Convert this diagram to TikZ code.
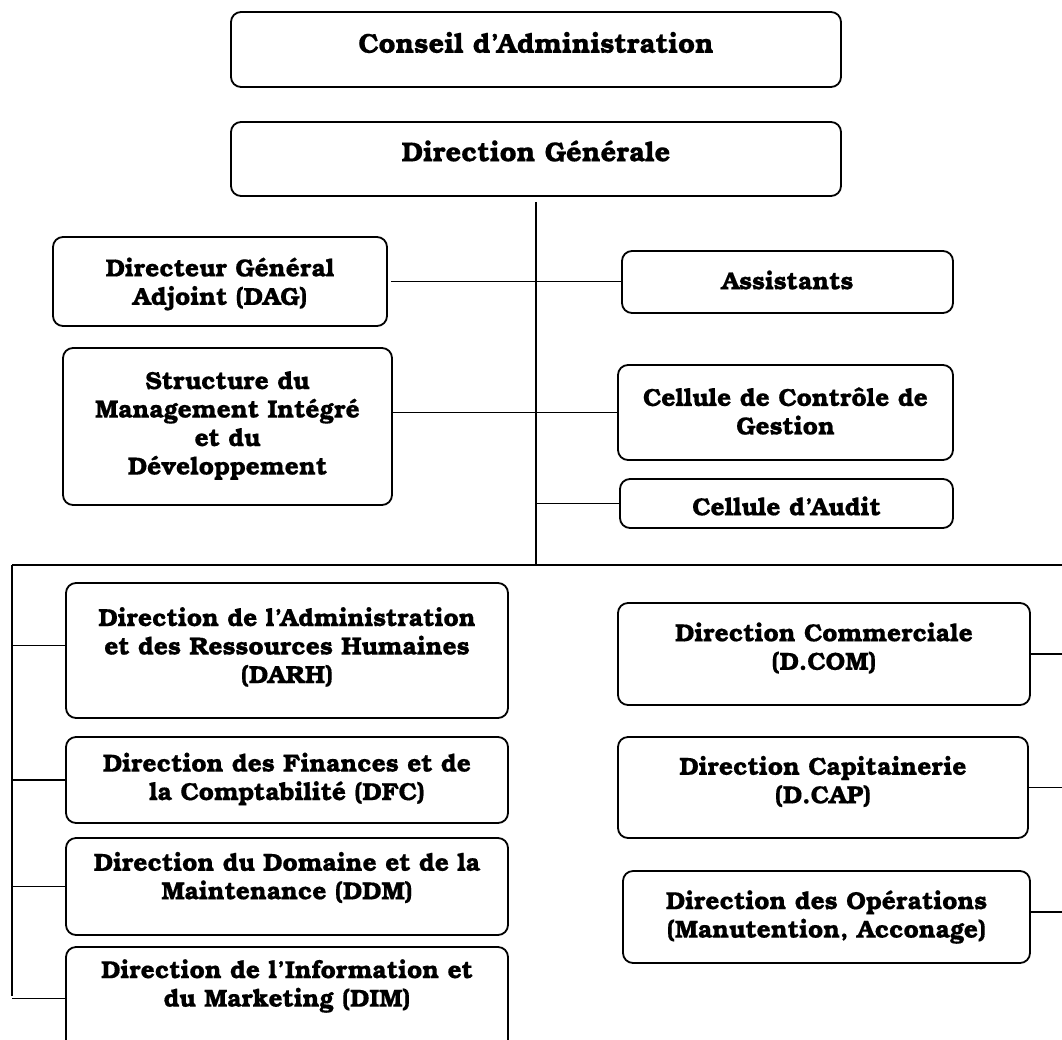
\documentclass[tikz,border=0pt]{standalone}
\usepackage{fontspec}
\setmainfont{texgyrebonum}[Extension=.otf, UprightFont=*-regular, BoldFont=*-bold, BoldFeatures={FakeBold=0.4}]
\begin{document}
\begin{tikzpicture}[x=1pt,y=-1pt,
  box/.style={draw, line width=1.8pt, rounded corners=10pt, inner sep=0pt},
  txt/.style={align=center, inner sep=0pt, font=\fontsize{24.7}{28.5}\selectfont\bfseries},
  bigtxt/.style={align=center, inner sep=0pt, font=\fontsize{27.4}{32}\selectfont\bfseries},
  conn/.style={line width=1.8pt}]
\clip (0,0) rectangle (1062,1039);
\useasboundingbox (0,0) rectangle (1062,1039);
% boxes
\node[box, minimum width=610, minimum height=75] (ca) at (536,49.5) {};
\node[box, minimum width=610, minimum height=74] (dg) at (536,159) {};
\node[box, minimum width=334, minimum height=89] (dag) at (220,281.5) {};
\node[box, minimum width=331, minimum height=62] (ass) at (787.5,282) {};
\node[box, minimum width=329, minimum height=157] (smi) at (227.5,426.5) {};
\node[box, minimum width=335, minimum height=95] (ccg) at (785.5,412.5) {};
\node[box, minimum width=333, minimum height=49] (aud) at (786.5,503.5) {};
\node[box, minimum width=442, minimum height=135] (darh) at (287,650.5) {};
\node[box, minimum width=442, minimum height=86] (dfc) at (287,780) {};
\node[box, minimum width=442, minimum height=97] (ddm) at (287,886.5) {};
\node[box, minimum width=442, minimum height=103] (dim) at (287,998.5) {};
\node[box, minimum width=412, minimum height=102] (dcom) at (824,654) {};
\node[box, minimum width=410, minimum height=101] (dcap) at (823,787.5) {};
\node[box, minimum width=407, minimum height=92] (dops) at (826.5,917) {};
% texts
\node[bigtxt] (ca-t) at ([yshift=7pt]ca.center) {Conseil d’Administration};
\node[bigtxt] (dg-t) at ([yshift=8pt]dg.center) {Direction Générale};
\node[txt] (dag-t) at ([yshift=-2.5pt]dag.center) {Directeur Général\\Adjoint (DAG)};
\node[txt] (ass-t) at ([yshift=2pt]ass.center) {Assistants};
\node[txt] (smi-t) at ([yshift=1pt]smi.center) {Structure du\\Management Intégré\\et du\\Développement};
\node[txt] (ccg-t) at ([yshift=1.5pt]ccg.center) {Cellule de Contrôle de\\Gestion};
\node[txt] (aud-t) at ([yshift=-2.5pt]aud.center) {Cellule d’Audit};
\node[txt] (darh-t) at ([yshift=3.5pt]darh.center) {Direction de l’Administration\\et des Ressources Humaines\\(DARH)};
\node[txt] (dfc-t) at ([yshift=1pt]dfc.center) {Direction des Finances et de\\la Comptabilité (DFC)};
\node[txt] (ddm-t) at ([yshift=9pt]ddm.center) {Direction du Domaine et de la\\Maintenance (DDM)};
\node[txt] (dim-t) at ([yshift=12.5pt]dim.center) {Direction de l’Information et\\du Marketing (DIM)};
\node[txt] (dcom-t) at ([yshift=6pt]dcom.center) {Direction Commerciale\\(D.COM)};
\node[txt] (dcap-t) at ([yshift=6pt]dcap.center) {Direction Capitainerie\\(D.CAP)};
\node[txt] (dops-t) at (dops.center) {Direction des Opérations\\(Manutention, Acconage)};
% connectors
\coordinate (spine) at (536,565);
\coordinate (L) at (12,565);
\coordinate (R) at (1070,565);
\coordinate (Lend) at (12,996);
\draw[conn] ([yshift=-5pt]dg.south) -- (spine);
\draw[conn] (L) -- (R);
\draw[conn] (L) -- (Lend);
\draw[conn] ([xshift=3pt]dag.east) -- (dag.east -| ass.west);
\draw[conn] (ccg.west -| smi.east) -- (ccg.west);
\draw[conn] (aud.west -| spine) -- (aud.west);
\draw[conn] ([yshift=5pt]darh.west -| L) -- ([yshift=5pt]darh.west);
\foreach \n in {dfc,ddm,dim} \draw[conn] (\n.west -| L) -- (\n.west);
\foreach \n in {dcom,dcap} \draw[conn] (\n.east) -- (\n.east -| R);
\draw[conn] ([yshift=5pt]dops.east) -- ([yshift=5pt]dops.east -| R);
\end{tikzpicture}
\end{document}
